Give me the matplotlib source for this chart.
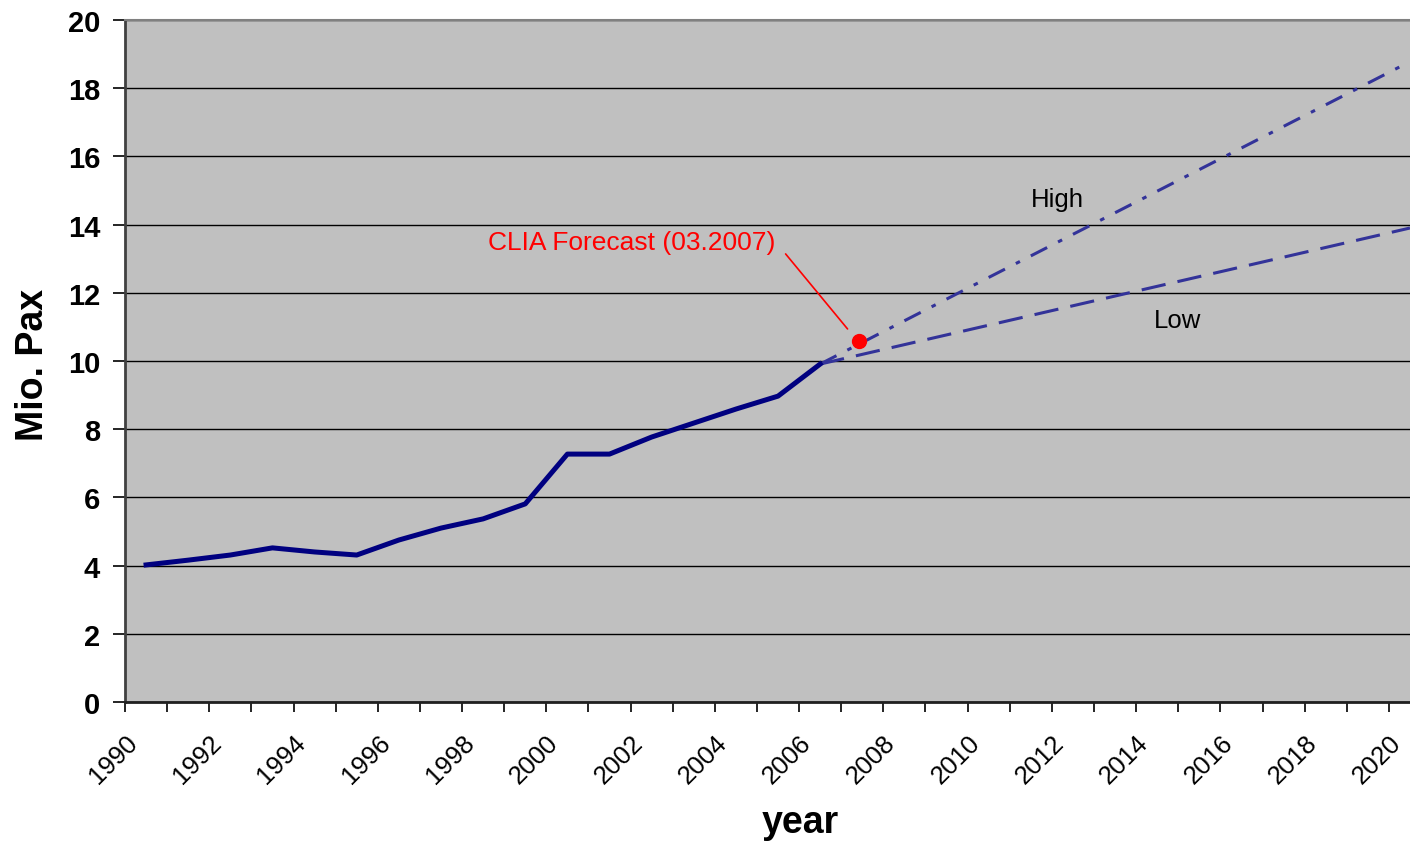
import matplotlib as mpl
mpl.use('Agg')
import matplotlib.pyplot as plt

plt.rcParams['font.family'] = ['Liberation Sans', 'DejaVu Sans']

# observed passengers (mid-year points)
years = [1990.5, 1991.5, 1992.5, 1993.5, 1994.5, 1995.5, 1996.5, 1997.5, 1998.5,
         1999.5, 2000.5, 2001.5, 2002.5, 2003.5, 2004.5, 2005.5, 2006.5]
pax = [4.02, 4.16, 4.31, 4.52, 4.40, 4.31, 4.75, 5.10, 5.37,
       5.81, 7.27, 7.27, 7.77, 8.18, 8.59, 8.97, 9.91]

# forecast scenarios
fc_years = [2006.5, 2010.5, 2014.5, 2020.5]
fc_high = [9.91, 12.45, 14.98, 18.78]
fc_low = [9.91, 11.05, 12.19, 13.90]

clia_year = 2007.43
clia_value = 10.59

tick_years = list(range(1990, 2021, 2))

fig = plt.figure(figsize=(14.1, 8.45), dpi=100)
ax = fig.add_axes([125 / 1410, 142 / 845, 1 - 125 / 1410, 682 / 845])
ax.set_facecolor('#C0C0C0')

ax.set_xlim(1990, 2020.5)
ax.set_ylim(0, 20)
ax.set_yticks(range(0, 21, 2))
ax.yaxis.grid(True, color='black', linewidth=1.0)
ax.set_axisbelow(True)

ax.plot(years, pax, color='#000080', linewidth=3.6, solid_joinstyle='round', zorder=3)
ax.plot(fc_years, fc_high, color='#333399', linewidth=2.2, dashes=(6, 4, 1.5, 4), zorder=2)
ax.plot(fc_years, fc_low, color='#333399', linewidth=2.2, dashes=(8, 4), zorder=2)

ax.plot([clia_year], [clia_value], 'o', color='#FF0000', markersize=10, zorder=4)
ax.annotate('', xy=(2007.15, 10.94), xytext=(2005.68, 13.14),
            arrowprops=dict(arrowstyle='-', color='#FF0000', lw=1.2,
                            shrinkA=0, shrinkB=0))
ax.text(2002.02, 13.49, 'CLIA Forecast (03.2007)', color='#FF0000',
        fontsize=19, ha='center', va='center')
ax.text(2012.12, 14.75, 'High', fontsize=18.5, ha='center', va='center')
ax.text(2014.99, 11.2, 'Low', fontsize=18.5, ha='center', va='center')

ax.set_xticks(tick_years)
ax.set_xticks(range(1990, 2021), minor=True)
ax.set_xticklabels([str(y) for y in tick_years], rotation=45, ha='right', va='top',
                   rotation_mode='anchor', fontsize=18.5)
ax.tick_params(axis='x', which='both', length=7, width=1.2, pad=13)
ax.tick_params(axis='y', length=9, width=1.2, labelsize=21, pad=9)
for lab in ax.get_yticklabels():
    lab.set_fontweight('bold')

ax.spines['left'].set_linewidth(2)
ax.spines['left'].set_color('#404040')
ax.spines['bottom'].set_linewidth(2)
ax.spines['bottom'].set_color('#202020')
ax.spines['top'].set_color('#808080')
ax.spines['top'].set_linewidth(1.5)
ax.spines['right'].set_visible(False)

ax.set_ylabel('Mio. Pax', fontsize=27, fontweight='bold')
ax.set_xlabel('year', fontsize=27, fontweight='bold')
ax.yaxis.set_label_coords(33 / 1410, 1 - 365 / 845, transform=fig.transFigure)
ax.xaxis.set_label_coords(800 / 1410, 1 - 823 / 845, transform=fig.transFigure)
ax.xaxis.label.set_va('center')
ax.yaxis.label.set_va('center')

fig.savefig('out.png', dpi=100)
